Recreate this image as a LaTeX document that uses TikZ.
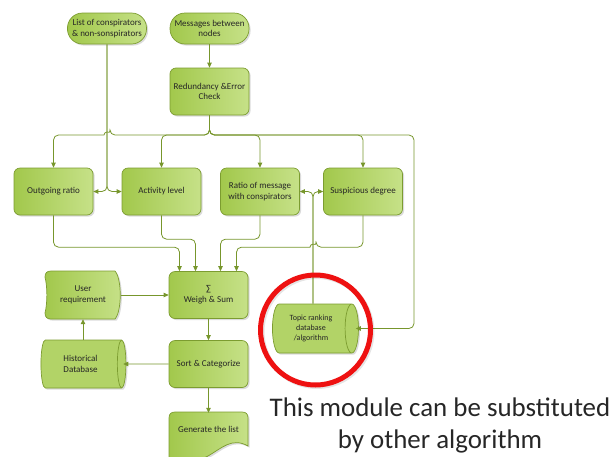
\documentclass[tikz,border=0pt]{standalone}
\usepackage{fontspec}
\setmainfont{Carlito}
\usetikzlibrary{arrows.meta,shapes.geometric,shadows,calc}

\definecolor{gA}{HTML}{A2C84C}
\definecolor{gB}{HTML}{C6E188}
\definecolor{gEdge}{HTML}{7C9C30}
\definecolor{gLine}{HTML}{77962C}
\definecolor{ink}{HTML}{262626}
\definecolor{ring}{HTML}{EE1111}

\pgfdeclarelayer{bg}
\pgfsetlayers{bg,main}

\tikzset{
  softshadow/.style={drop shadow={shadow xshift=1.6pt,shadow yshift=-1.6pt,fill=black,opacity=0.14}},
  greenfill/.style={left color=gA,right color=gB,draw=gEdge,line width=0.7pt},
  label font/.style={font=\fontsize{9}{10.8}\selectfont,text=ink,align=center},
  procbox/.style={greenfill,softshadow,rectangle,rounded corners=6pt,
    minimum width=79pt,minimum height=47pt,inner sep=1pt,label font},
  termbox/.style={procbox,rounded corners=15pt,minimum height=31pt},
  dbase/.style={draw=gEdge,line width=0.7pt,fill=gA!55!gB,softshadow,cylinder,aspect=0.45,
    minimum height=86pt,minimum width=49pt,inner sep=1pt,label font},
  textonly/.style={rectangle,inner sep=1pt,label font},
  conn/.style={draw=gLine,line width=0.8pt,-{Triangle[length=5pt,width=4.5pt]},rounded corners=5pt},
}

\begin{document}
\begin{tikzpicture}[x=1pt,y=-1pt]
\useasboundingbox (0,0) rectangle (613,456);
\clip (0,0) rectangle (613,456);

% inputs and pre-processing
\node[termbox] (L) at (107,28.5) {List of conspirators\\\& non-sonspirators};
\node[termbox] (M) at (209.5,28.5) {Messages between\\nodes};
\node[procbox] (R) at (209.5,91.5) {Redundancy \&Error\\Check};

% feature boxes
\node[procbox] (O)  at (53.5,191.5)  {Outgoing ratio};
\node[procbox] (A)  at (161.5,191.5) {Activity level};
\node[procbox] (R2) at (260,191.5)   {Ratio of message\\with conspirators};
\node[procbox] (S)  at (363,191.5)   {Suspicious degree};

% scoring and output
\node[procbox] (W)  at (208.5,295) {∑\\Weigh \& Sum};
\node[procbox] (SC) at (208.5,364) {Sort \& Categorize};
\node[textonly,minimum width=79pt,minimum height=30pt] (G) at (208.5,429) {Generate the list};
\node[textonly,minimum width=75pt,minimum height=48pt] (U) at (83,295) {User\\requirement};
\node[dbase,minimum height=85pt,minimum width=48pt] (H) at (80.5,364) {Historical\\Database};
\node[dbase,font=\fontsize{8}{10.4}\selectfont] (T) at (311,328.5) {Topic ranking\\database\\/algorithm};

% outlines of the stored-data and document shapes
\begin{pgfonlayer}{bg}
  \path[greenfill,softshadow]
    (45,277) .. controls (45,273) and (47,271) .. (51,271) -- (115,271)
    .. controls (122,279) and (122,311) .. (115,319) -- (51,319)
    .. controls (47,319) and (45,317) .. (45,313)
    .. controls (47.5,303) and (47.5,287) .. (45,277) -- cycle;
  \path[greenfill,softshadow]
    (169,462) -- (169,418) .. controls (169,414) and (171,412) .. (175,412)
    -- (242,412) .. controls (246,412) and (248,414) .. (248,418) -- (248,446)
    .. controls (232,437) and (222,448) .. (208,456)
    .. controls (195,463) and (180,464) .. (169,462) -- cycle;
\end{pgfonlayer}

% distribution bus below the check step
\coordinate (bus) at (209.5,135);
\coordinate (rbus) at (414,135);

\draw[conn] (M.south) -- (R.north);
\draw[conn] (R.south) -- (bus) -- ([xshift=3pt]bus -| L.south)
  [sharp corners] arc[start angle=0,end angle=180,radius=3pt]
  [rounded corners=5pt] -| (O.north);
\draw[conn] (R.south) -- (bus) -| (A.north);
\draw[conn] (R.south) -- (bus) -| (R2.north);
\draw[conn] (R.south) -- (bus) -| (S.north);
\draw[conn] (R.south) -- (bus) -- (rbus) |- ([xshift=-3pt]T.east);

% conspirator list feeds the two left features
\draw[conn] (L.south) |- (O.east);
\draw[conn] (L.south) |- (A.west);

% topic ranking feeds the two right features
\draw[conn] ([xshift=2pt]T.north) |- (R2.east);
\draw[conn] ([xshift=2pt]T.north) |- (S.west);

% features into the weighted sum
\draw[conn] (O.south) |- ([xshift=-29pt,yshift=24pt]W.north) -- ([xshift=-29pt]W.north);
\draw[conn] (A.south) |- ([xshift=-13pt,yshift=32pt]W.north) -- ([xshift=-13pt]W.north);
\draw[conn] (R2.south) |- ([xshift=12pt,yshift=32pt]W.north) -- ([xshift=12pt]W.north);
\draw[conn] (S.south) -- ($(S.south |- W.north)+(0,24pt)$)
  -- ([xshift=5pt,yshift=24pt]T.north |- W.north)
  [sharp corners] arc[start angle=0,end angle=180,radius=3pt]
  [rounded corners=5pt] -| ([xshift=28pt]W.north);

\draw[conn] (U.east) -- (W.west);
\draw[conn] (W.south) -- (SC.north);
\draw[conn] (SC.south) -- ([yshift=1pt]G.north);
\draw[conn] (SC.west) -- ([xshift=-3pt]H.east);
\draw[conn] (U.south |- H.north) -- (U.south);

% highlight ring with a faint offset shade, and the note
\draw[black,opacity=0.10,line width=5pt] (317,331.5) circle[radius=55pt];
\node[circle,draw=ring,line width=5pt,minimum size=110pt,inner sep=0pt] (ringmark) at (315.5,330) {};
\node[align=center,inner sep=0pt,text=ink,font=\fontsize{26.9}{32}\selectfont] (note) at (440,425.8)
  {This module can be substituted\\by other algorithm};
\end{tikzpicture}
\end{document}
